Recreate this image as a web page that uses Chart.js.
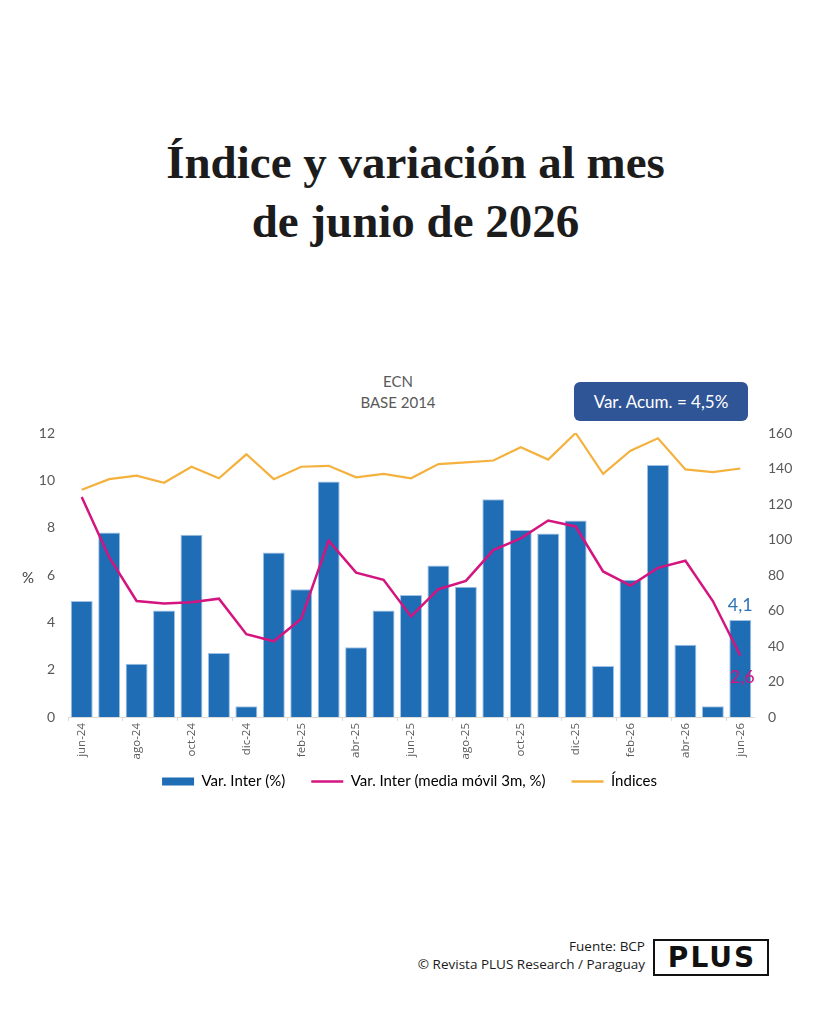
<!DOCTYPE html>
<html lang="es">
<head>
<meta charset="utf-8">
<title>Índice y variación al mes de junio de 2026</title>
<script src="https://cdn.jsdelivr.net/npm/chart.js@4.4.1/dist/chart.umd.min.js"></script>
<style>
  body { margin: 0; width: 819px; height: 1024px; background: #fff; position: relative; overflow: hidden; }
  .titulo { position: absolute; left: 6px; top: 133px; width: 819px; text-align: center;
    font-family: "Liberation Serif", serif; font-weight: bold; font-size: 47px; line-height: 59px; color: #1c1c1c; }
  .base { position: absolute; left: 298px; top: 371px; width: 200px; text-align: center;
    font-family: Lato, sans-serif; font-size: 15px; line-height: 21px; color: #595959; }
  .acum { position: absolute; left: 574px; top: 382px; width: 174px; height: 39px; border-radius: 6px;
    background: #2f5597; color: #fff; font-family: Lato, sans-serif; font-size: 17px; line-height: 39px; text-align: center; }
  .chart-box { position: absolute; left: 0; top: 360px; width: 819px; height: 454px; }
  .fuente { position: absolute; right: 174px; top: 937px; text-align: right;
    font-family: "Open Sans", sans-serif; font-size: 13.5px; line-height: 18px; color: #1a1a1a; }
  .plus { position: absolute; left: 653px; top: 939px; width: 110px; height: 33px; border: 2px solid #111;
    font-family: "DejaVu Sans", sans-serif; font-weight: bold; font-size: 28px; line-height: 34px;
    letter-spacing: 2px; text-align: center; color: #111; padding-left: 2px; box-sizing: content-box; }
</style>
</head>
<body>
<div class="titulo">Índice y variación al mes<br>de junio de 2026</div>
<div class="base">ECN<br>BASE 2014</div>
<div class="acum">Var. Acum. = 4,5%</div>
<div class="chart-box"><canvas id="grafico"></canvas></div>
<div class="fuente">Fuente: BCP<br>© Revista PLUS Research / Paraguay</div>
<div class="plus">PLUS</div>

<script>
// datos
const meses = ['jun-24', 'jul-24', 'ago-24', 'sep-24', 'oct-24', 'nov-24', 'dic-24', 'ene-25', 'feb-25',
  'mar-25', 'abr-25', 'may-25', 'jun-25', 'jul-25', 'ago-25', 'sep-25', 'oct-25', 'nov-25', 'dic-25',
  'ene-26', 'feb-26', 'mar-26', 'abr-26', 'may-26', 'jun-26'];
const varInter = [4.9, 7.8, 2.25, 4.5, 7.7, 2.7, 0.45, 6.95, 5.4, 9.95, 2.95, 4.5, 5.15, 6.4, 5.5,
  9.2, 7.9, 7.75, 8.3, 2.15, 5.8, 10.65, 3.05, 0.45, 4.1];
const mediaMovil = [9.3, 6.75, 4.9, 4.8, 4.85, 5.0, 3.5, 3.2, 4.15, 7.45, 6.1, 5.8, 4.25, 5.4, 5.75,
  7.05, 7.55, 8.3, 8.05, 6.15, 5.55, 6.3, 6.6, 4.9, 2.6];
const indices = [128, 134, 136, 132, 141, 134.5, 148, 134, 141, 141.5, 135, 137, 134.5, 142.5, 143.5,
  144.5, 152, 145, 160, 137, 150, 157, 139.5, 138, 140];

const AZUL = '#1f6db5';
const MAGENTA = '#d4147f';
const NARANJA = '#f4b13e';
const GRIS = '#595959';

// etiquetas del último mes y el símbolo %
const extras = {
  id: 'extras',
  afterLayout(chart) {
    // subir la leyenda, pegada a las etiquetas del eje x como en el original
    chart.legend.top -= 13;
    chart.legend.bottom -= 13;
  },
  afterDatasetsDraw(chart) {
    const { ctx, chartArea } = chart;
    const barra = chart.getDatasetMeta(0).data[varInter.length - 1];
    const punto = chart.getDatasetMeta(1).data[mediaMovil.length - 1];
    ctx.save();
    ctx.font = '18px Lato, sans-serif';
    ctx.textAlign = 'center';
    ctx.textBaseline = 'middle';
    ctx.fillStyle = '#2e75b6';
    ctx.fillText(String(varInter[varInter.length - 1]).replace('.', ','), barra.x, barra.y - 15);
    ctx.fillStyle = MAGENTA;
    ctx.fillText(String(mediaMovil[mediaMovil.length - 1]).replace('.', ','), punto.x + 2, punto.y + 22);
    ctx.font = '15px Lato, sans-serif';
    ctx.fillStyle = '#404040';
    ctx.fillText('%', 28, (chartArea.top + chartArea.bottom) / 2 + 3);
    ctx.restore();
  }
};

new Chart(document.getElementById('grafico'), {
  data: {
    labels: meses,
    datasets: [
      {
        type: 'bar',
        label: 'Var. Inter (%)',
        data: varInter,
        backgroundColor: AZUL,
        borderColor: '#9fc2e6',
        borderWidth: 1,
        categoryPercentage: 1,
        barPercentage: 0.8,
        yAxisID: 'y',
        order: 3,
      },
      {
        type: 'line',
        label: 'Var. Inter (media móvil 3m, %)',
        data: mediaMovil,
        borderColor: MAGENTA,
        borderWidth: 2.5,
        pointRadius: 0,
        tension: 0,
        yAxisID: 'y',
        order: 2,
      },
      {
        type: 'line',
        label: 'Índices',
        data: indices,
        borderColor: NARANJA,
        borderWidth: 2.2,
        pointRadius: 0,
        tension: 0,
        yAxisID: 'y1',
        order: 1,
      }
    ]
  },
  options: {
    responsive: true,
    maintainAspectRatio: false,
    animation: false,
    layout: { padding: { top: 73, bottom: 2, left: 0, right: 0 } },
    plugins: {
      tooltip: { enabled: false },
      legend: {
        position: 'bottom',
        labels: {
          usePointStyle: true,
          pointStyleWidth: 32,
          boxHeight: 8,
          padding: 26,
          color: '#404040',
          font: { family: 'Lato', size: 15 },
          generateLabels: (chart) => chart.data.datasets.map((ds, i) => ({
            text: ds.label,
            fillStyle: i === 0 ? AZUL : ds.borderColor,
            strokeStyle: i === 0 ? AZUL : ds.borderColor,
            lineWidth: i === 0 ? 0 : 2.5,
            pointStyle: i === 0 ? 'rect' : 'line',
            hidden: false,
            datasetIndex: i,
          }))
        }
      }
    },
    scales: {
      x: {
        offset: true,
        border: { display: true, color: '#dcdcdc', width: 1 },
        grid: {
          display: true,
          drawOnChartArea: false,
          tickLength: 4,
          color: (c) => (c.index % 2 === 0 ? '#d9d9d9' : 'rgba(0,0,0,0)'),
        },
        ticks: {
          autoSkip: false,
          maxRotation: 90,
          minRotation: 90,
          padding: 2,
          color: GRIS,
          font: { family: 'Open Sans', size: 11.5 },
          callback: (v, i) => (i % 2 === 0 ? meses[i] : ''),
        },
        afterFit: (s) => { s.height = 44; },
      },
      y: {
        position: 'left',
        min: 0,
        max: 12,
        border: { display: false },
        grid: { display: false, drawTicks: false },
        ticks: { stepSize: 2, padding: 13, color: GRIS, font: { family: 'Lato', size: 14 } },
        afterFit: (s) => { s.width = 68; },
      },
      y1: {
        position: 'right',
        min: 0,
        max: 160,
        border: { display: false },
        grid: { display: false, drawTicks: false },
        ticks: { stepSize: 20, padding: 14, color: GRIS, font: { family: 'Lato', size: 14 } },
        afterFit: (s) => { s.width = 65; },
      }
    }
  },
  plugins: [extras]
});
</script>
</body>
</html>
